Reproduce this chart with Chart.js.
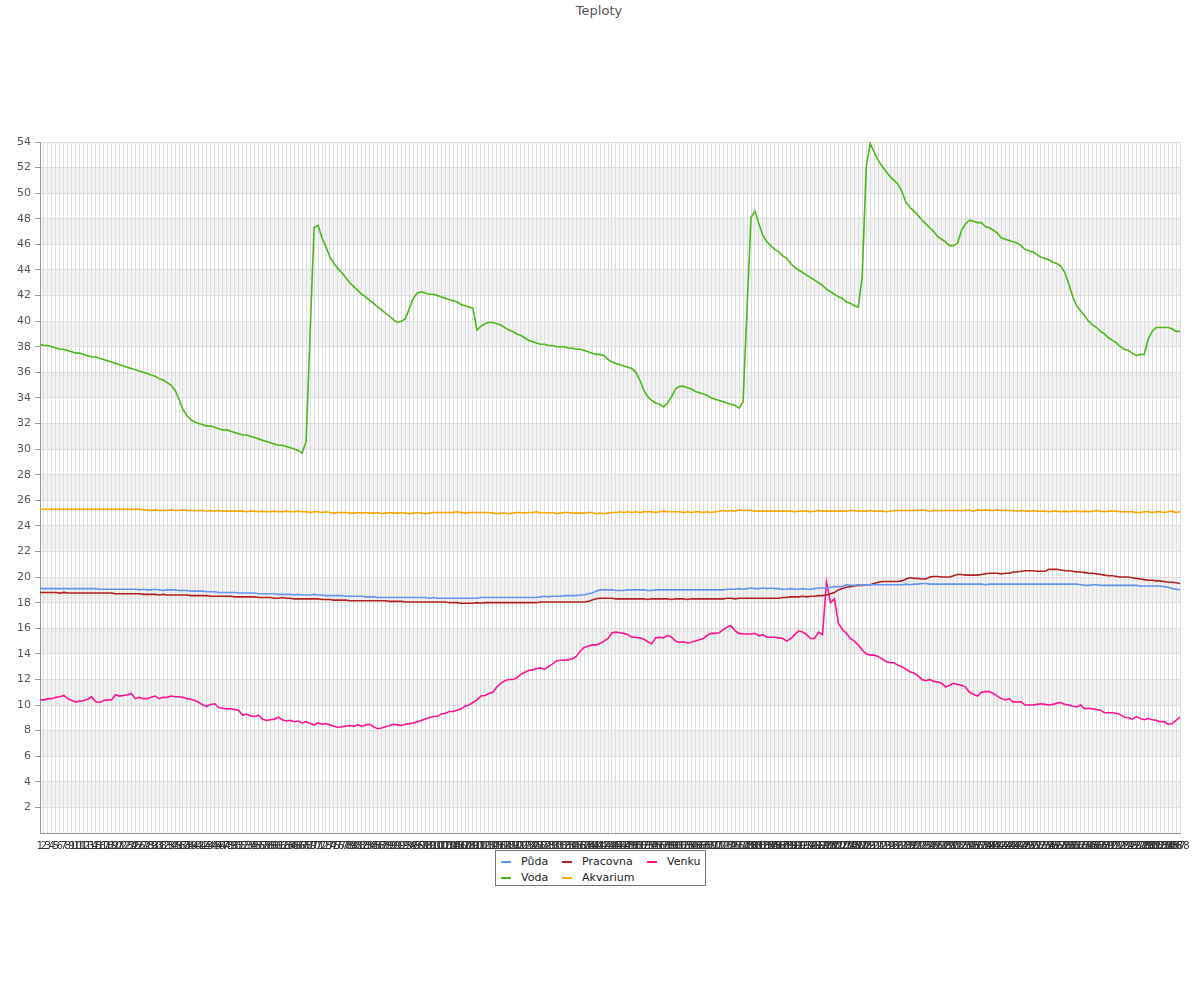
<!DOCTYPE html>
<html>
<head>
<meta charset="utf-8">
<title>Teploty</title>
<script src="https://cdn.jsdelivr.net/npm/chart.js@4/dist/chart.umd.min.js"></script>
<style>
  html, body { margin: 0; padding: 0; background: #fff; }
  body { width: 1200px; height: 1000px; position: relative; font-family: "DejaVu Sans", sans-serif; }
  #title { position: absolute; top: 3px; left: 0; width: 1198px; text-align: center; font-size: 13px; color: #555; }
  #chart { position: absolute; left: 0; top: 0; }
  #legend {
    position: absolute; left: 495px; top: 850px; width: 209px; height: 34px;
    border: 1px solid #777; background: #fff; font-size: 11px; color: #222;
  }
  .item { position: absolute; line-height: 13px; white-space: nowrap; }
  .item i { position: absolute; left: 0; top: 6px; width: 10px; height: 2px; }
  .item span { position: absolute; left: 20px; top: 0; }
</style>
</head>
<body>
<div id="title">Teploty</div>
<canvas id="chart" width="1200" height="1000"></canvas>
<div id="legend"></div>
<script>
/* =============================================
   DATA  (5-minute samples, 288 per day)
   ============================================= */
const samples = Array.from({ length: 288 }, (_, i) => String(i + 1));

const puda = [
  19.1, 19.1, 19.1, 19.1, 19.1, 19.1, 19.1, 19.1, 19.1, 19.1, 19.1, 19.1,
  19.1, 19.1, 19.1, 19.05, 19.05, 19.05, 19.05, 19.05, 19.05, 19.05, 19.05, 19.05,
  19.05, 19.0, 19.05, 19.0, 19.0, 19.05, 19.0, 18.95, 19.0, 19.0, 19.0, 18.95,
  18.95, 18.95, 18.9, 18.9, 18.9, 18.9, 18.85, 18.85, 18.85, 18.8, 18.8, 18.8,
  18.8, 18.8, 18.75, 18.75, 18.75, 18.75, 18.75, 18.7, 18.7, 18.7, 18.7, 18.7,
  18.65, 18.65, 18.65, 18.65, 18.6, 18.65, 18.6, 18.6, 18.6, 18.65, 18.6, 18.6,
  18.55, 18.55, 18.55, 18.55, 18.55, 18.5, 18.5, 18.5, 18.5, 18.5, 18.45, 18.45,
  18.45, 18.4, 18.4, 18.4, 18.4, 18.4, 18.4, 18.4, 18.4, 18.4, 18.4, 18.4,
  18.4, 18.4, 18.35, 18.4, 18.35, 18.35, 18.35, 18.35, 18.35, 18.35, 18.35, 18.35,
  18.35, 18.35, 18.35, 18.4, 18.4, 18.4, 18.4, 18.4, 18.4, 18.4, 18.4, 18.4,
  18.4, 18.4, 18.4, 18.4, 18.4, 18.4, 18.45, 18.5, 18.45, 18.5, 18.5, 18.5,
  18.55, 18.55, 18.55, 18.55, 18.6, 18.6, 18.7, 18.75, 18.9, 19.0, 19.0, 19.0,
  19.0, 18.95, 18.95, 18.95, 19.0, 19.0, 19.0, 19.0, 19.0, 18.95, 18.95, 19.0,
  19.0, 19.0, 19.0, 19.0, 19.0, 19.0, 19.0, 19.0, 19.0, 19.0, 19.0, 19.0,
  19.0, 19.0, 19.0, 19.0, 19.0, 19.05, 19.05, 19.05, 19.1, 19.05, 19.1, 19.15,
  19.1, 19.1, 19.15, 19.1, 19.15, 19.1, 19.1, 19.05, 19.05, 19.1, 19.05, 19.05,
  19.1, 19.05, 19.05, 19.1, 19.15, 19.15, 19.15, 19.2, 19.25, 19.25, 19.25, 19.4,
  19.35, 19.35, 19.4, 19.35, 19.4, 19.4, 19.4, 19.4, 19.4, 19.4, 19.4, 19.4,
  19.4, 19.4, 19.45, 19.4, 19.45, 19.45, 19.5, 19.5, 19.45, 19.45, 19.45, 19.45,
  19.45, 19.45, 19.45, 19.45, 19.45, 19.45, 19.45, 19.45, 19.45, 19.45, 19.4, 19.45,
  19.45, 19.45, 19.45, 19.45, 19.45, 19.45, 19.45, 19.45, 19.45, 19.45, 19.45, 19.45,
  19.45, 19.45, 19.45, 19.45, 19.45, 19.45, 19.45, 19.45, 19.45, 19.45, 19.4, 19.35,
  19.35, 19.4, 19.4, 19.35, 19.35, 19.35, 19.35, 19.35, 19.35, 19.35, 19.35, 19.35,
  19.35, 19.3, 19.3, 19.3, 19.3, 19.3, 19.3, 19.25, 19.2, 19.1, 19.05, 19.0
];

const voda = [
  38.2, 38.1, 38.1, 38.0, 37.9, 37.8, 37.8, 37.7, 37.6, 37.5, 37.5, 37.4,
  37.3, 37.2, 37.2, 37.1, 37.0, 36.9, 36.8, 36.7, 36.6, 36.5, 36.4, 36.3,
  36.2, 36.1, 36.0, 35.9, 35.8, 35.7, 35.5, 35.4, 35.2, 35.0, 34.6, 33.9,
  33.1, 32.6, 32.3, 32.1, 32.0, 31.9, 31.8, 31.8, 31.7, 31.6, 31.5, 31.5,
  31.4, 31.3, 31.2, 31.1, 31.1, 31.0, 30.9, 30.8, 30.7, 30.6, 30.5, 30.4,
  30.3, 30.3, 30.2, 30.1, 30.0, 29.9, 29.7, 30.6, 39.0, 47.3, 47.5, 46.5,
  45.8, 45.0, 44.5, 44.1, 43.8, 43.4, 43.0, 42.7, 42.4, 42.1, 41.9, 41.6,
  41.4, 41.1, 40.9, 40.6, 40.4, 40.1, 39.9, 40.0, 40.2, 41.0, 41.8, 42.2,
  42.3, 42.2, 42.1, 42.1, 42.0, 41.9, 41.8, 41.7, 41.6, 41.5, 41.3, 41.2,
  41.1, 41.0, 39.3, 39.6, 39.8, 39.9, 39.9, 39.8, 39.7, 39.5, 39.3, 39.2,
  39.0, 38.9, 38.7, 38.5, 38.4, 38.3, 38.2, 38.2, 38.1, 38.1, 38.0, 38.0,
  38.0, 37.9, 37.9, 37.8, 37.8, 37.7, 37.6, 37.5, 37.4, 37.4, 37.3, 37.0,
  36.8, 36.7, 36.6, 36.5, 36.4, 36.3, 36.0, 35.4, 34.6, 34.1, 33.8, 33.6,
  33.5, 33.3, 33.6, 34.1, 34.7, 34.9, 34.9, 34.8, 34.7, 34.5, 34.4, 34.3,
  34.2, 34.0, 33.9, 33.8, 33.7, 33.6, 33.5, 33.4, 33.2, 33.7, 41.0, 48.1,
  48.6, 47.6, 46.7, 46.2, 45.9, 45.6, 45.4, 45.1, 44.9, 44.5, 44.2, 44.0,
  43.8, 43.6, 43.4, 43.2, 43.0, 42.8, 42.5, 42.3, 42.1, 41.9, 41.8, 41.5,
  41.4, 41.2, 41.1, 43.5, 52.0, 53.9, 53.2, 52.6, 52.1, 51.7, 51.3, 51.0,
  50.7, 50.1, 49.3, 48.9, 48.6, 48.3, 47.9, 47.6, 47.3, 47.0, 46.6, 46.4,
  46.2, 45.9, 45.9, 46.1, 47.1, 47.6, 47.9, 47.8, 47.7, 47.7, 47.4, 47.3,
  47.1, 46.9, 46.5, 46.4, 46.3, 46.2, 46.1, 45.9, 45.6, 45.5, 45.4, 45.2,
  45.0, 44.9, 44.8, 44.6, 44.5, 44.3, 43.8, 42.9, 41.9, 41.2, 40.8, 40.4,
  40.0, 39.7, 39.5, 39.2, 39.0, 38.7, 38.5, 38.3, 38.0, 37.8, 37.7, 37.5,
  37.3, 37.4, 37.4, 38.6, 39.2, 39.5, 39.5, 39.5, 39.5, 39.4, 39.2, 39.2
];

const pracovna = [
  18.8, 18.8, 18.8, 18.8, 18.8, 18.75, 18.8, 18.75, 18.75, 18.75, 18.75, 18.75,
  18.75, 18.75, 18.75, 18.75, 18.75, 18.75, 18.75, 18.7, 18.7, 18.7, 18.7, 18.7,
  18.7, 18.7, 18.65, 18.65, 18.65, 18.65, 18.6, 18.65, 18.6, 18.6, 18.6, 18.6,
  18.6, 18.6, 18.55, 18.55, 18.55, 18.55, 18.55, 18.5, 18.5, 18.5, 18.5, 18.5,
  18.5, 18.45, 18.45, 18.45, 18.45, 18.45, 18.45, 18.4, 18.4, 18.4, 18.4, 18.35,
  18.35, 18.4, 18.35, 18.35, 18.3, 18.3, 18.3, 18.3, 18.3, 18.3, 18.3, 18.25,
  18.25, 18.25, 18.2, 18.2, 18.2, 18.2, 18.15, 18.15, 18.15, 18.15, 18.15, 18.15,
  18.15, 18.15, 18.15, 18.15, 18.1, 18.1, 18.1, 18.1, 18.05, 18.05, 18.05, 18.05,
  18.05, 18.05, 18.05, 18.05, 18.05, 18.05, 18.05, 18.0, 18.0, 18.0, 17.95, 17.95,
  17.95, 17.95, 18.0, 17.95, 18.0, 18.0, 18.0, 18.0, 18.0, 18.0, 18.0, 18.0,
  18.0, 18.0, 18.0, 18.0, 18.0, 18.0, 18.05, 18.05, 18.05, 18.05, 18.05, 18.05,
  18.05, 18.05, 18.05, 18.05, 18.05, 18.05, 18.1, 18.2, 18.3, 18.35, 18.35, 18.35,
  18.35, 18.3, 18.3, 18.3, 18.3, 18.3, 18.3, 18.3, 18.3, 18.25, 18.3, 18.3,
  18.3, 18.3, 18.3, 18.25, 18.3, 18.3, 18.3, 18.25, 18.3, 18.3, 18.3, 18.3,
  18.3, 18.3, 18.3, 18.3, 18.3, 18.35, 18.35, 18.3, 18.35, 18.35, 18.35, 18.35,
  18.35, 18.35, 18.35, 18.35, 18.35, 18.35, 18.35, 18.4, 18.4, 18.45, 18.45, 18.45,
  18.5, 18.45, 18.5, 18.5, 18.55, 18.55, 18.6, 18.7, 18.8, 19.0, 19.1, 19.2,
  19.25, 19.3, 19.35, 19.35, 19.4, 19.4, 19.5, 19.6, 19.65, 19.65, 19.65, 19.65,
  19.65, 19.7, 19.85, 19.95, 19.9, 19.9, 19.85, 19.85, 20.0, 20.05, 20.05, 20.0,
  20.0, 20.0, 20.1, 20.2, 20.2, 20.15, 20.15, 20.15, 20.15, 20.2, 20.25, 20.3,
  20.3, 20.3, 20.25, 20.3, 20.3, 20.4, 20.4, 20.45, 20.5, 20.5, 20.5, 20.45,
  20.45, 20.45, 20.6, 20.6, 20.6, 20.55, 20.5, 20.5, 20.45, 20.4, 20.4, 20.35,
  20.3, 20.3, 20.25, 20.2, 20.15, 20.1, 20.1, 20.05, 20.0, 20.0, 20.0, 19.95,
  19.9, 19.85, 19.8, 19.75, 19.75, 19.7, 19.7, 19.65, 19.6, 19.6, 19.55, 19.5
];

const akvarium = [
  25.3, 25.3, 25.3, 25.3, 25.3, 25.3, 25.3, 25.3, 25.3, 25.3, 25.3, 25.3,
  25.3, 25.3, 25.3, 25.3, 25.3, 25.3, 25.3, 25.3, 25.3, 25.3, 25.3, 25.3,
  25.3, 25.3, 25.25, 25.25, 25.2, 25.25, 25.2, 25.2, 25.2, 25.25, 25.2, 25.2,
  25.25, 25.2, 25.2, 25.2, 25.2, 25.2, 25.15, 25.2, 25.15, 25.2, 25.15, 25.15,
  25.15, 25.15, 25.15, 25.15, 25.1, 25.15, 25.15, 25.1, 25.15, 25.1, 25.1, 25.15,
  25.1, 25.1, 25.15, 25.1, 25.1, 25.15, 25.1, 25.1, 25.05, 25.1, 25.1, 25.05,
  25.1, 25.05, 25.0, 25.05, 25.05, 25.05, 25.0, 25.0, 25.05, 25.0, 25.05, 25.0,
  25.0, 25.05, 24.95, 25.0, 25.05, 25.0, 25.0, 25.05, 25.0, 24.95, 25.0, 25.05,
  25.0, 24.95, 25.0, 25.05, 25.05, 25.05, 25.05, 25.05, 25.05, 25.1, 25.05, 25.0,
  25.05, 25.05, 25.05, 25.05, 25.05, 25.05, 25.0, 24.95, 25.0, 25.0, 24.95, 25.0,
  25.05, 25.05, 25.0, 25.05, 25.05, 25.1, 25.0, 25.05, 25.0, 25.05, 24.95, 25.0,
  25.05, 25.05, 25.0, 25.0, 25.0, 25.0, 25.05, 25.05, 24.95, 25.0, 24.95, 25.0,
  25.05, 25.05, 25.1, 25.05, 25.1, 25.05, 25.1, 25.05, 25.1, 25.1, 25.1, 25.05,
  25.1, 25.15, 25.1, 25.1, 25.1, 25.1, 25.05, 25.1, 25.05, 25.1, 25.1, 25.05,
  25.1, 25.05, 25.1, 25.15, 25.2, 25.15, 25.2, 25.15, 25.25, 25.2, 25.2, 25.2,
  25.15, 25.15, 25.15, 25.15, 25.15, 25.15, 25.15, 25.15, 25.15, 25.15, 25.1, 25.15,
  25.15, 25.15, 25.1, 25.15, 25.2, 25.15, 25.15, 25.15, 25.15, 25.15, 25.15, 25.15,
  25.2, 25.2, 25.15, 25.15, 25.15, 25.2, 25.15, 25.15, 25.15, 25.1, 25.15, 25.2,
  25.2, 25.2, 25.2, 25.2, 25.2, 25.2, 25.25, 25.2, 25.15, 25.2, 25.2, 25.2,
  25.2, 25.2, 25.2, 25.2, 25.2, 25.2, 25.25, 25.15, 25.25, 25.2, 25.25, 25.2,
  25.2, 25.25, 25.2, 25.2, 25.2, 25.2, 25.15, 25.2, 25.15, 25.15, 25.2, 25.15,
  25.15, 25.15, 25.1, 25.15, 25.15, 25.1, 25.15, 25.1, 25.15, 25.15, 25.1, 25.15,
  25.1, 25.15, 25.2, 25.15, 25.1, 25.15, 25.15, 25.15, 25.1, 25.1, 25.1, 25.1,
  25.05, 25.05, 25.1, 25.1, 25.05, 25.1, 25.1, 25.05, 25.1, 25.15, 25.05, 25.1
];

const venku = [
  10.4, 10.4, 10.5, 10.5, 10.6, 10.65, 10.75, 10.5, 10.35, 10.25, 10.3, 10.35,
  10.45, 10.65, 10.25, 10.2, 10.35, 10.4, 10.4, 10.8, 10.7, 10.75, 10.8, 10.9,
  10.5, 10.6, 10.5, 10.5, 10.6, 10.7, 10.5, 10.6, 10.6, 10.7, 10.65, 10.65,
  10.6, 10.5, 10.45, 10.35, 10.2, 10.0, 9.9, 10.05, 10.1, 9.8, 9.75, 9.7,
  9.7, 9.65, 9.6, 9.2, 9.3, 9.15, 9.1, 9.2, 8.9, 8.8, 8.85, 8.9,
  9.05, 8.85, 8.75, 8.8, 8.7, 8.75, 8.6, 8.7, 8.55, 8.45, 8.6, 8.5,
  8.55, 8.45, 8.35, 8.25, 8.3, 8.35, 8.4, 8.35, 8.45, 8.35, 8.45, 8.5,
  8.3, 8.15, 8.2, 8.3, 8.4, 8.5, 8.45, 8.4, 8.5, 8.55, 8.6, 8.7,
  8.8, 8.9, 9.0, 9.1, 9.1, 9.3, 9.35, 9.5, 9.5, 9.6, 9.7, 9.9,
  10.0, 10.2, 10.4, 10.7, 10.75, 10.9, 11.0, 11.4, 11.7, 11.9, 12.0, 12.0,
  12.1, 12.4, 12.55, 12.7, 12.75, 12.85, 12.9, 12.8, 13.0, 13.2, 13.45, 13.5,
  13.5, 13.55, 13.6, 13.8, 14.2, 14.5, 14.6, 14.7, 14.7, 14.8, 15.0, 15.2,
  15.65, 15.7, 15.65, 15.6, 15.5, 15.3, 15.3, 15.25, 15.15, 14.95, 14.8, 15.25,
  15.3, 15.25, 15.45, 15.3, 15.0, 14.9, 14.95, 14.85, 14.9, 15.0, 15.1, 15.2,
  15.45, 15.6, 15.6, 15.65, 15.9, 16.1, 16.2, 15.8, 15.6, 15.55, 15.55, 15.55,
  15.6, 15.4, 15.5, 15.3, 15.3, 15.3, 15.25, 15.2, 15.0, 15.2, 15.5, 15.8,
  15.7, 15.5, 15.2, 15.2, 15.7, 15.5, 19.6, 18.0, 18.3, 16.4, 15.9, 15.6,
  15.2, 15.0, 14.7, 14.3, 14.0, 13.9, 13.9, 13.8, 13.6, 13.4, 13.3, 13.3,
  13.1, 13.0, 12.8, 12.6, 12.5, 12.3, 12.0, 11.9, 12.0, 11.85, 11.8, 11.7,
  11.4, 11.55, 11.7, 11.6, 11.55, 11.4, 11.0, 10.85, 10.7, 11.0, 11.05, 11.05,
  10.9, 10.7, 10.5, 10.4, 10.5, 10.25, 10.25, 10.25, 10.0, 10.0, 10.0, 10.05,
  10.1, 10.05, 10.0, 10.05, 10.15, 10.2, 10.05, 10.0, 9.9, 9.85, 10.0, 9.7,
  9.75, 9.7, 9.65, 9.6, 9.4, 9.4, 9.4, 9.35, 9.25, 9.05, 9.0, 8.9,
  9.1, 8.95, 8.85, 8.95, 8.85, 8.8, 8.7, 8.7, 8.5, 8.55, 8.8, 9.05
];

const seriesNames = ['Půda', 'Voda', 'Pracovna', 'Akvarium', 'Venku'];
const seriesColors = ['#6495ed', '#4cb81a', '#b22222', '#ffa500', '#ff1493'];
const seriesData = [puda, voda, pracovna, akvarium, venku];

/* =============================================
   BACKGROUND BANDS (every other 2-degree strip)
   ============================================= */
const bandPlugin = {
  id: 'bands',
  beforeDraw(chart) {
    const { ctx, chartArea: a, scales: { y } } = chart;
    ctx.save();
    ctx.fillStyle = '#f2f2f2';
    for (let v = 2; v < y.max; v += 4) {
      const top = y.getPixelForValue(v + 2);
      const bot = y.getPixelForValue(v);
      ctx.fillRect(a.left, top, a.right - a.left, bot - top);
    }
    ctx.restore();
  }
};

/* =============================================
   CHART
   ============================================= */
const font = 'DejaVu Sans';

new Chart(document.getElementById('chart'), {
  type: 'line',
  data: {
    labels: samples,
    datasets: seriesNames.map((name, i) => ({
      label: name,
      data: seriesData[i],
      borderColor: seriesColors[i],
      backgroundColor: seriesColors[i],
      borderWidth: 1.6,
      pointRadius: 0,
      tension: 0,
      fill: false
    }))
  },
  options: {
    responsive: false,
    animation: false,
    events: [],
    layout: { padding: { top: 142, right: 20, bottom: 147, left: 0 } },
    plugins: {
      legend: { display: false },
      title: { display: false },
      tooltip: { enabled: false }
    },
    scales: {
      x: {
        grid: { color: '#dedede', lineWidth: 1, drawTicks: false },
        border: { color: '#999' },
        ticks: {
          autoSkip: false, maxRotation: 0, minRotation: 0, padding: 7,
          color: '#333', font: { family: font, size: 10 }
        },
        afterFit(s) { s.height = 20; }
      },
      y: {
        min: 0,
        max: 54,
        ticks: {
          stepSize: 1,
          padding: 4,
          color: '#555',
          font: { family: font, size: 11 },
          callback: v => (v % 2 === 0 && v > 0) ? v : ''
        },
        grid: {
          color: c => (c.tick && c.tick.value % 2 === 0) ? '#dedede' : 'rgba(0,0,0,0)',
          // no tick mark at zero, the x axis sits there
          tickColor: c => (c.tick && c.tick.value === 0) ? 'rgba(0,0,0,0)' : '#999',
          tickLength: 5
        },
        border: { color: '#999' },
        afterFit(s) { s.width = 40; }
      }
    }
  },
  plugins: [bandPlugin]
});

/* =============================================
   LEGEND (3 columns, filled column by column)
   ============================================= */
const legendPos = [[5, 4], [5, 20], [66, 4], [66, 20], [151, 4]];
document.getElementById('legend').innerHTML = seriesNames.map((name, i) => `
  <div class="item" style="left:${legendPos[i][0]}px;top:${legendPos[i][1]}px">
    <i style="background:${seriesColors[i]}"></i><span>${name}</span>
  </div>`).join('');
</script>
</body>
</html>
